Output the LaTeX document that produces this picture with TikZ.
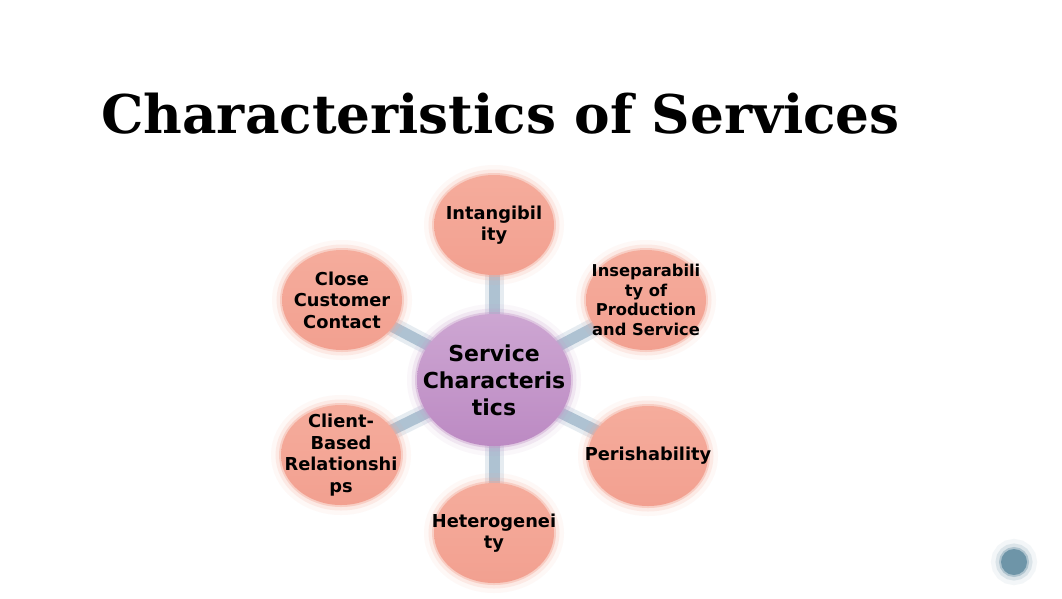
\documentclass[tikz,border=0pt]{standalone}
\usepackage{fontspec}
\setsansfont{DejaVu Sans}
\newfontfamily\titlefont{DejaVu Serif}
\usetikzlibrary{shapes.geometric,backgrounds}
\definecolor{salmon}{HTML}{F4A696}
\definecolor{salmonL}{HTML}{F5AC9C}
\definecolor{salmonD}{HTML}{F2A090}
\definecolor{purp}{HTML}{C69ACB}
\definecolor{purpL}{HTML}{CDA6D2}
\definecolor{purpD}{HTML}{BC8AC3}
\definecolor{connC}{HTML}{AEC2D2}
\definecolor{dotC}{HTML}{6E95A8}
\begin{document}
\begin{tikzpicture}[x=1pt,y=-1pt,
  blob/.style={ellipse, inner sep=0pt,
    preaction={draw=#1, draw opacity=0.08, line width=20pt},
    preaction={draw=#1, draw opacity=0.18, line width=11pt},
    preaction={draw=#1, draw opacity=0.40, line width=4pt}},
  outer/.style={blob=salmon, minimum width=120pt, minimum height=100pt,
    top color=salmonL, bottom color=salmonD},
  lbl/.style={align=center, font=\sffamily\bfseries\fontsize{17.8}{21.5}\selectfont},
  lbls/.style={align=center, font=\sffamily\bfseries\fontsize{16.3}{19.8}\selectfont},
  lblc/.style={align=center, font=\sffamily\bfseries\fontsize{22}{27}\selectfont},
  conn/.style={draw=connC, line width=11pt,
    preaction={draw=connC, draw opacity=0.3, line width=19pt}}]
\useasboundingbox (0,0) rectangle (1062,598);
\begin{scope}[on background layer]
  \fill[white] (0,0) rectangle (1062,598);
\end{scope}

\node[font=\titlefont\bfseries\fontsize{53.3}{60}\selectfont, anchor=base west, inner sep=0pt] (title) at (101,133) {Characteristics of Services};

\node[blob=purp, minimum width=154pt, minimum height=132pt, top color=purpL, bottom color=purpD,
  label={[lblc]center:Service\\Characteris\\tics}] (c) at (494,380) {};

\node[outer, label={[lbl]center:Intangibil\\ity}] (n1) at (494,225) {};
\node[outer, label={[lbls]center:Inseparabili\\ty of\\Production\\and Service}] (n2) at (646,300) {};
\node[outer, label={[lbl]center:Perishability}] (n3) at (648,456) {};
\node[outer, label={[lbl]center:Heterogenei\\ty}] (n4) at (494,533) {};
\node[outer, label={[lbl]center:Client-\\Based\\Relationshi\\ps}] (n5) at (341,455) {};
\node[outer, label={[lbl]center:Close\\Customer\\Contact}] (n6) at (342,300) {};

\node[blob=dotC, circle, minimum size=26pt, fill=dotC] (dot) at (1014,562) {};

\begin{scope}[on background layer]
  \foreach \n in {n1,n2,n3,n4,n5,n6} {\draw[conn] (c.center) -- (\n.center);}
\end{scope}
\end{tikzpicture}
\end{document}
